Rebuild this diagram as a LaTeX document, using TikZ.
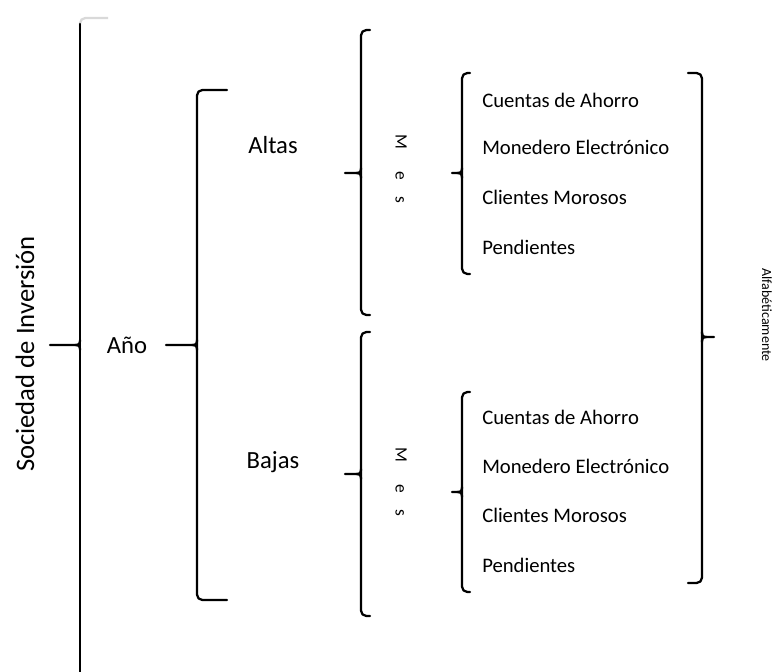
\documentclass[tikz,border=0pt]{standalone}
\usepackage{fontspec}
\setmainfont{Carlito}

% Cusp where a bracket's tip leaves its spine: spine x, tip y, direction (+1 right, -1 left), tip end
\newcommand{\bracketTip}[4]{%
  \draw[bracket] (#1,#2-5) .. controls (#1,#2-1) and (#1+#3*1,#2) .. (#1+#3*5,#2) -- (#4);
  \draw[bracket] (#1,#2+5) .. controls (#1,#2+1) and (#1+#3*1,#2) .. (#1+#3*5,#2);
}
% Left-opening bracket: name, x, top, bottom, tip y, hook width, tip length
\newcommand{\bracketL}[7]{%
  \coordinate (#1-top) at (#2+#6,#3);
  \coordinate (#1-bot) at (#2+#6,#4);
  \coordinate (#1-tip) at (#2-#7,#5);
  \draw[bracket,rounded corners=4pt] (#1-top) -- (#2,#3) -- (#2,#4) -- (#1-bot);
  \bracketTip{#2}{#5}{-1}{#1-tip}
}
% Right-opening bracket: name, x, top, bottom, tip y, hook width, tip length
\newcommand{\bracketR}[7]{%
  \coordinate (#1-top) at (#2-#6,#3);
  \coordinate (#1-bot) at (#2-#6,#4);
  \coordinate (#1-tip) at (#2+#7,#5);
  \draw[bracket,rounded corners=4pt] (#1-top) -- (#2,#3) -- (#2,#4) -- (#1-bot);
  \bracketTip{#2}{#5}{1}{#1-tip}
}

\begin{document}
\begin{tikzpicture}[x=0.75pt,y=-0.75pt,
  bracket/.style={line width=1.7pt,line cap=round,line join=round},
  label/.style={font=\fontsize{18.5}{22}\selectfont,inner sep=0pt},
  item/.style={font=\fontsize{15.5}{18}\selectfont,anchor=west,inner sep=0pt},
  vertical/.style={font=\fontsize{13}{15}\selectfont,inner sep=0pt,rotate=-90}]

\useasboundingbox (0,0) rectangle (776,672);
\fill[white] (0,0) rectangle (776,672);

% outer level: company
\node[font=\fontsize{20}{24}\selectfont,inner sep=0pt,rotate=90] (soc) at (25,354) {Sociedad de Inversión};
\draw[line width=1.7pt,gray!30,rounded corners=4pt] (108,18) -- (80,18) -- (80,30);
\draw[bracket] (80,24) -- (80,680);
\coordinate (soc-tip) at (50,345);
\bracketTip{80}{345}{-1}{soc-tip}

% year
\node[label] (anio) at (127,345) {Año};
\bracketL{anio}{197}{90}{600}{345}{30}{31}

\node[label] (altas) at (273,145) {Altas};
\node[label] (bajas) at (273,462) {Bajas};

% month brackets
\bracketL{mes1}{361}{30}{315}{173}{9}{16}
\bracketL{mes2}{361}{332}{616}{474}{9}{16}
\node[vertical] (mesA) at (401,169) {M\hspace{16.5pt}e\hspace{12pt}s};
\node[vertical] (mesB) at (401,482) {M\hspace{16.5pt}e\hspace{12pt}s};

% account categories
\bracketL{cat1}{462}{73}{274}{173}{8}{10}
\bracketL{cat2}{462}{392}{592}{492}{8}{10}

\node[item] (c1) at (482,100) {Cuentas de Ahorro};
\node[item] (m1) at (482,147) {Monedero Electrónico};
\node[item] (cl1) at (482,197) {Clientes Morosos};
\node[item] (p1) at (482,247) {Pendientes};

\node[item] (c2) at (482,417) {Cuentas de Ahorro};
\node[item] (m2) at (482,466) {Monedero Electrónico};
\node[item] (cl2) at (482,515) {Clientes Morosos};
\node[item] (p2) at (482,565) {Pendientes};

% sort order
\bracketR{alfa}{702}{73}{583}{337}{14}{12}
\node[font=\fontsize{10.5}{12}\selectfont,inner sep=0pt,rotate=-90] (alf) at (767,315) {Alfabéticamente};

\end{tikzpicture}
\end{document}
